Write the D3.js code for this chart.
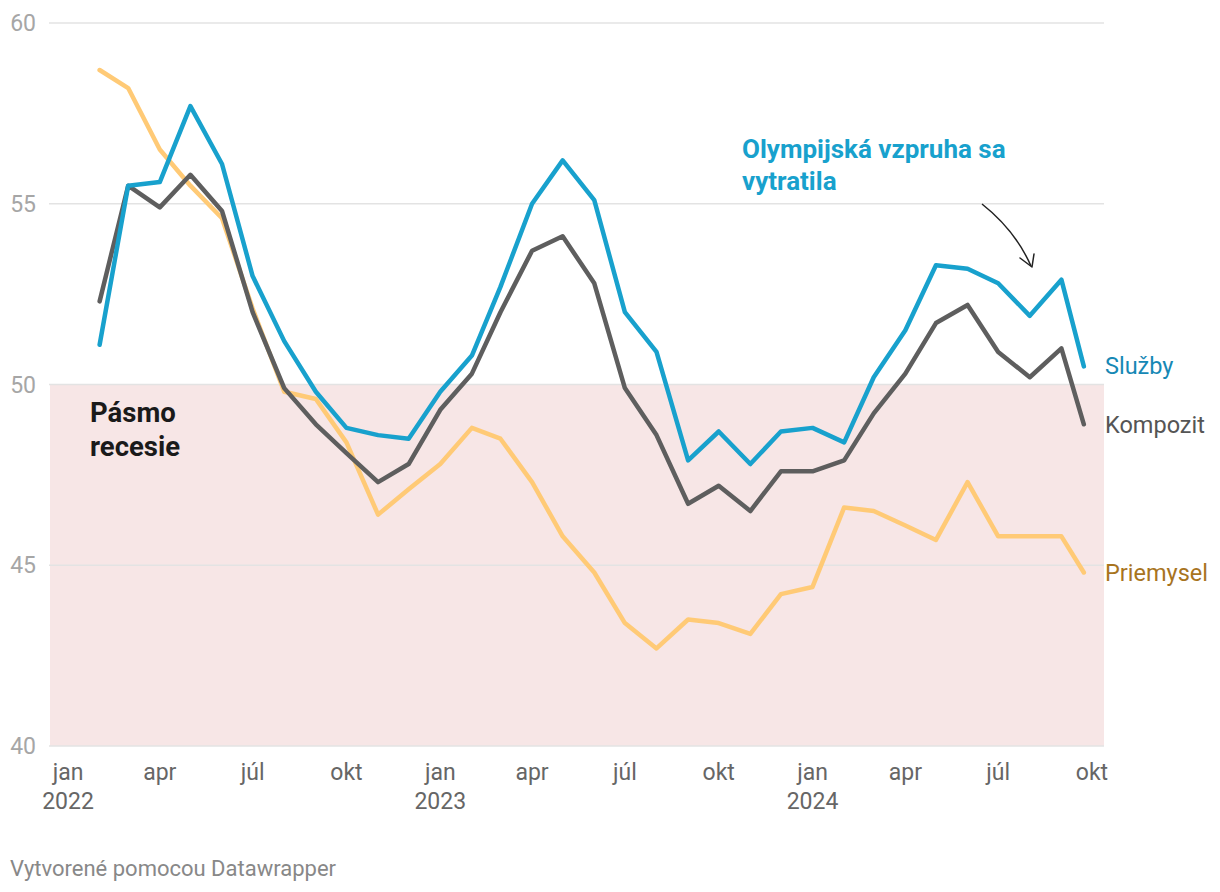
<!DOCTYPE html>
<html>
<head>
<meta charset="utf-8">
<script src="https://cdn.jsdelivr.net/npm/d3@7"></script>
<style>
  html, body { margin: 0; padding: 0; background: #fff; }
  svg { display: block; font-family: Roboto, "Noto Sans", sans-serif; }
</style>
</head>
<body>
<svg id="chart" width="1220" height="892"></svg>
<script>
// ---- data (Eurozone PMI, Jan 2022 – Sep 2024 flash) ----
const periods = [
  "2022-01","2022-02","2022-03","2022-04","2022-05","2022-06","2022-07","2022-08","2022-09","2022-10","2022-11","2022-12",
  "2023-01","2023-02","2023-03","2023-04","2023-05","2023-06","2023-07","2023-08","2023-09","2023-10","2023-11","2023-12",
  "2024-01","2024-02","2024-03","2024-04","2024-05","2024-06","2024-07","2024-08","2024-09"
];
const sluzby = [51.1,55.5,55.6,57.7,56.1,53.0,51.2,49.8,48.8,48.6,48.5,49.8,
                50.8,52.7,55.0,56.2,55.1,52.0,50.9,47.9,48.7,47.8,48.7,48.8,
                48.4,50.2,51.5,53.3,53.2,52.8,51.9,52.9,50.5];
const kompozit = [52.3,55.5,54.9,55.8,54.8,52.0,49.9,48.9,48.1,47.3,47.8,49.3,
                  50.3,52.0,53.7,54.1,52.8,49.9,48.6,46.7,47.2,46.5,47.6,47.6,
                  47.9,49.2,50.3,51.7,52.2,50.9,50.2,51.0,48.9];
const priemysel = [58.7,58.2,56.5,55.5,54.6,52.1,49.8,49.6,48.4,46.4,47.1,47.8,
                   48.8,48.5,47.3,45.8,44.8,43.4,42.7,43.5,43.4,43.1,44.2,44.4,
                   46.6,46.5,46.1,45.7,47.3,45.8,45.8,45.8,44.8];
const yTicks = [40, 45, 50, 55, 60];
const monthNames = ["jan","feb","mar","apr","máj","jún","júl","aug","sep","okt","nov","dec"];
const seriesNames = ["Služby", "Kompozit", "Priemysel"];
const recessionBand = [40, 50];
const annotationText = ["Olympijská vzpruha sa", "vytratila"];
const bandText = ["Pásmo", "recesie"];
const footerText = "Vytvorené pomocou Datawrapper";

// ---- layout ----
const svg = d3.select("#chart");
const plotLeft = 50, plotRight = 1104;

// each monthly reading is plotted at the end of its month; the last is a flash estimate (23 Sep)
const dates = periods.map((p, i) => {
  const [yy, m] = p.split("-").map(Number);
  return i === periods.length - 1 ? new Date(Date.UTC(2024, 8, 23)) : new Date(Date.UTC(yy, m, 1));
});

const x = d3.scaleUtc()
  .domain([new Date(Date.UTC(2022, 0, 1)), new Date(Date.UTC(2024, 9, 1))])
  .range([68, 1092]);
const y = d3.scaleLinear().domain([40, 60]).range([746, 23]);

// recession band
svg.append("rect")
  .attr("x", plotLeft).attr("width", plotRight - plotLeft)
  .attr("y", y(recessionBand[1])).attr("height", y(recessionBand[0]) - y(recessionBand[1]))
  .attr("fill", "#f7e6e6");

// grid + y labels
const yAxis = svg.append("g");
yTicks.forEach(t => {
  yAxis.append("line")
    .attr("x1", plotLeft - 1).attr("x2", plotRight)
    .attr("y1", y(t)).attr("y2", y(t))
    .attr("stroke", "#e3e3e3").attr("stroke-width", 1.5);
  yAxis.append("text")
    .attr("x", 36).attr("y", y(t))
    .attr("dy", "0.35em")
    .attr("text-anchor", "end")
    .attr("font-size", 23).attr("fill", "#a6a6a6")
    .text(t);
});

// x axis labels
const xTicks = d3.utcMonth.every(3).range(new Date(Date.UTC(2022, 0, 1)), new Date(Date.UTC(2024, 9, 2)));
const xAxis = svg.append("g");
xTicks.forEach(d => {
  xAxis.append("text")
    .attr("x", x(d)).attr("y", 780)
    .attr("text-anchor", "middle")
    .attr("font-size", 23).attr("fill", "#666")
    .text(monthNames[d.getUTCMonth()]);
  if (d.getUTCMonth() === 0) {
    xAxis.append("text")
      .attr("x", x(d)).attr("y", 809)
      .attr("text-anchor", "middle")
      .attr("font-size", 23).attr("fill", "#666")
      .text(d.getUTCFullYear());
  }
});

// lines
const line = d3.line().x((d, i) => x(dates[i])).y(d => y(d));
const series = [
  { name: seriesNames[2], values: priemysel, color: "#ffca76", label: "#a8741e" },
  { name: seriesNames[1], values: kompozit, color: "#5e5e5e", label: "#555555" },
  { name: seriesNames[0], values: sluzby, color: "#18a1cd", label: "#1688b5" }
];
series.forEach(s => {
  svg.append("path")
    .datum(s.values)
    .attr("d", line)
    .attr("fill", "none")
    .attr("stroke", s.color)
    .attr("stroke-width", 4.5)
    .attr("stroke-linejoin", "round")
    .attr("stroke-linecap", "round");
});

// direct labels at line ends
const labelPos = { "Služby": 366, "Kompozit": 425, "Priemysel": 573 };
series.forEach(s => {
  svg.append("text")
    .attr("x", 1105).attr("y", labelPos[s.name])
    .attr("dy", "0.35em")
    .attr("font-size", 23.5).attr("fill", s.label)
    .text(s.name);
});

// band annotation
svg.append("text")
  .attr("x", 90).attr("y", 412)
  .attr("font-size", 27.5).attr("font-weight", 700).attr("fill", "#1a1a1a")
  .selectAll("tspan").data(bandText).join("tspan")
  .attr("x", 90).attr("dy", (d, i) => i === 0 ? "0.35em" : 34)
  .text(d => d);

// olympic annotation
svg.append("text")
  .attr("x", 742).attr("y", 149)
  .attr("font-size", 26).attr("font-weight", 700).attr("fill", "#18a1cd")
  .selectAll("tspan").data(annotationText).join("tspan")
  .attr("x", 742).attr("dy", (d, i) => i === 0 ? "0.35em" : 32)
  .text(d => d);

// arrow
svg.append("path")
  .attr("d", "M982,204 Q1015,230 1031,266")
  .attr("fill", "none").attr("stroke", "#222").attr("stroke-width", 1.5);
svg.append("path")
  .attr("d", "M1020,258 L1032,267 L1034,254")
  .attr("fill", "none").attr("stroke", "#222").attr("stroke-width", 1.5)
  .attr("stroke-linejoin", "round").attr("stroke-linecap", "round");

// footer
svg.append("text")
  .attr("x", 10).attr("y", 876)
  .attr("font-size", 22).attr("fill", "#888")
  .text(footerText);
</script>
</body>
</html>
